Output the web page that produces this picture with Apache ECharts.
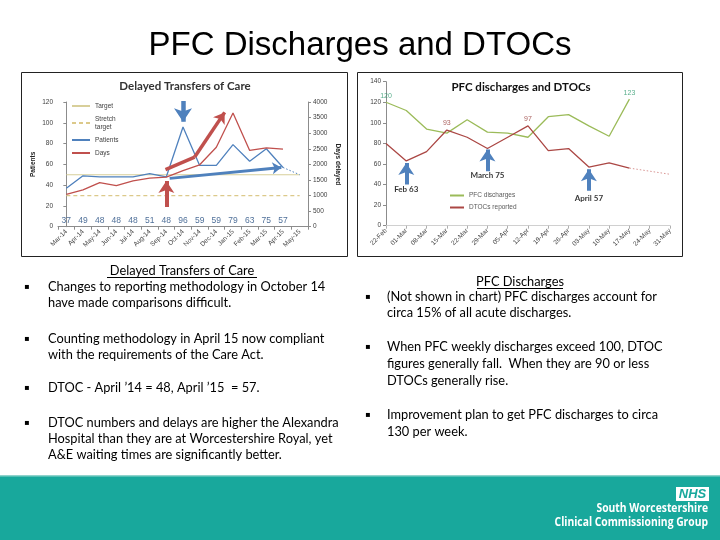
<!DOCTYPE html>
<html><head><meta charset="utf-8">
<script src="https://cdn.jsdelivr.net/npm/echarts@6/dist/echarts.min.js"></script>
<style>html,body{margin:0;padding:0;background:#fff}#c{width:720px;height:540px}</style>
</head><body><div id="c"></div>
<script>
// ---- Left chart: Delayed Transfers of Care ----
const months = ['Mar-14','Apr-14','May-14','Jun-14','Jul-14','Aug-14','Sep-14','Oct-14','Nov-14','Dec-14','Jan-15','Feb-15','Mar-15','Apr-15','May-15'];
const patients = [37,49,48,48,48,51,48,96,59,59,79,63,75,57,null];
const patientsTrend = [null,null,null,null,null,null,null,null,null,null,null,null,null,57,50];
const daysDelayed = [1040,1180,1415,1320,1470,1555,1590,1800,1985,2550,3645,2445,2530,2490,null];
const targetLine = [50,50,50,50,50,50,50,50,50,50,50,50,50,50,50];
const stretchLine = [30,30,30,30,30,30,30,30,30,30,30,30,30,30,30];
const patientTicks = [0,20,40,60,80,100,120];
const dayTicks = [0,500,1000,1500,2000,2500,3000,3500,4000];
// annotation arrows (x in month index, y in patients)
const arrowRedUp = [[6,19],[6,44]];
const arrowBlueDown = [[7,121],[7,101]];
const arrowRedTrendA = [[5.95,55],[7.7,67]];
const arrowRedTrendB = [[7.7,67],[9.5,110]];
const arrowBlueTrend = [[6.2,46.5],[12.9,57]];

// ---- Right chart: PFC discharges and DTOCs ----
const weeks = ['22-Feb','01-Mar','08-Mar','15-Mar','22-Mar','29-Mar','05-Apr','12-Apr','19-Apr','26-Apr','03-May','10-May','17-May','24-May','31-May'];
const pfcDischarges = [120,112,94,90,103,91,90,86,106,108,97,87,123,null,null];
const dtocsReported = [80,63,72,93,86,75,86,97,73,75,57,61,56,null,null];
const dtocsTrend = [null,null,null,null,null,null,null,null,null,null,null,null,56,53,50];
const pfcLabelAt = [0,12];
const dtocLabelAt = [3,7];
const weekTicks = [0,20,40,60,80,100,120,140];
const weekArrows = [ [[1,40],[1,61]], [[5,53],[5,74]], [[10,34],[10,55]] ];
const weekNotes = [[1,35,'Feb 63'],[5,49,'March 75'],[10,27,'April 57']];

const BLUE='#4f81bd', RED='#c0504d', TAN='#d8cf9a', GREEN='#9bbb59', MAROON='#ab4744';
const axLbl = {fontSize:6.5,color:'#404040',fontFamily:'Liberation Sans'};

const chart = echarts.init(document.getElementById('c'),null,{renderer:'canvas'});

function txt(x,y,s,o,extra){return Object.assign({type:'text',x:x,y:y,style:Object.assign({text:s,fill:'#000',font:'13px Lato',textVerticalAlign:'middle'},o||{})},extra||{});}
const body = 'normal 12.8px Lato';
const leftLines = [
 [287,'Changes to reporting methodology in October 14',true],
 [303,'have made comparisons difficult.',false],
 [339,'Counting methodology in April 15 now compliant',true],
 [355,'with the requirements of the Care Act.',false],
 [388,'DTOC - April \u201914 = 48, April \u201915  = 57.',true],
 [423,'DTOC numbers and delays are higher the Alexandra',true],
 [439,'Hospital than they are at Worcestershire Royal, yet',false],
 [455,'A&E waiting times are significantly better.',false]
];
const rightLines = [
 [297,'(Not shown in chart) PFC discharges account for',true],
 [313,'circa 15% of all acute discharges.',false],
 [347,'When PFC weekly discharges exceed 100, DTOC',true],
 [364,'figures generally fall.  When they are 90 or less',false],
 [381,'DTOCs generally rise.',false],
 [415,'Improvement plan to get PFC discharges to circa',true],
 [432,'130 per week.',false]
];
const graphics = [];
graphics.push(txt(360,46,'PFC Discharges and DTOCs',{font:'33px "Liberation Sans"',textAlign:'center'}));
graphics.push({type:'rect',shape:{x:21.5,y:72.5,width:326,height:184},style:{fill:'none',stroke:'#222',lineWidth:1}});
graphics.push({type:'rect',shape:{x:357.5,y:72.5,width:325,height:184},style:{fill:'none',stroke:'#222',lineWidth:1}});
graphics.push(txt(185,86,'Delayed Transfers of Care',{font:'bold 11.5px Lato',textAlign:'center',fill:'#333'}));
graphics.push(txt(521,87,'PFC discharges and DTOCs',{font:'bold 11.5px Lato',textAlign:'center',fill:'#111'}));
graphics.push(txt(182,271,'Delayed Transfers of Care',{font:body,textAlign:'center'}));
graphics.push({type:'line',shape:{x1:107,y1:277.5,x2:257,y2:277.5},style:{stroke:'#000',lineWidth:1}});
graphics.push(txt(520,282,'PFC Discharges',{font:body,textAlign:'center'}));
graphics.push({type:'line',shape:{x1:477,y1:288.5,x2:563,y2:288.5},style:{stroke:'#000',lineWidth:1}});
leftLines.forEach(l=>{graphics.push(txt(48,l[0],l[1],{font:body})); if(l[2]) graphics.push(txt(24,l[0],'\u25AA',{font:'8px "DejaVu Sans"'}));});
rightLines.forEach(l=>{graphics.push(txt(387,l[0],l[1],{font:body})); if(l[2]) graphics.push(txt(365,l[0],'\u25AA',{font:'8px "DejaVu Sans"'}));});
// footer
graphics.push({type:'rect',shape:{x:0,y:475,width:720,height:65},style:{fill:'#18a89c'}});
graphics.push({type:'rect',shape:{x:0,y:475,width:720,height:1.5},style:{fill:'#8fd3cc'}});
graphics.push({type:'rect',shape:{x:676,y:487,width:33,height:14},style:{fill:'#fff'}});
graphics.push(txt(692.5,494.5,'NHS',{font:'italic bold 13px "Liberation Sans"',textAlign:'center',fill:'#18a89c'}));
graphics.push(txt(0,0,'South Worcestershire',{font:'bold 12px "Open Sans"',textAlign:'right',fill:'#fff'},{x:708,y:509,scaleX:0.86}));
graphics.push(txt(0,0,'Clinical Commissioning Group',{font:'bold 12px "Open Sans"',textAlign:'right',fill:'#fff'},{x:708,y:523,scaleX:0.86}));

function arrowSeries(xi,yi,coordsList,color,w,head){
 return {type:'lines',coordinateSystem:'cartesian2d',xAxisIndex:xi,yAxisIndex:yi,polyline:false,z:5,
  lineStyle:{color:color,width:w,opacity:1,curveness:0},
  symbol:['none',head?'arrow':'none'],symbolSize:w*3,
  data:coordsList.map(c=>({coords:c}))};
}

const option = {
 animation:false,
 backgroundColor:'#fff',
 graphic:graphics,
 grid:[
  {left:58,top:102,width:250,height:124.7},
  {left:386,top:81.7,width:284,height:144}
 ],
 legend:[
  {orient:'vertical',left:66,top:97,itemWidth:18,itemHeight:6,itemGap:5,itemStyle:{opacity:0},
   textStyle:{fontSize:6.5,color:'#404040',lineHeight:8,fontFamily:'Liberation Sans'},
   data:['Target','Stretch\ntarget','Patients','Days']},
  {orient:'vertical',left:444,top:187,itemWidth:14,itemHeight:6,itemGap:5,itemStyle:{opacity:0},
   textStyle:{fontSize:6.5,color:'#595959',lineHeight:7,fontFamily:'Liberation Sans'},
   data:['PFC discharges','DTOCs reported']}
 ],
 xAxis:[
  {type:'category',gridIndex:0,data:months,boundaryGap:true,
   axisLine:{lineStyle:{color:'#8c8c8c'}},axisTick:{show:true,lineStyle:{color:'#8c8c8c'},length:3},
   axisLabel:Object.assign({rotate:45,fontSize:6,margin:4,interval:0},axLbl)},
  {type:'value',gridIndex:0,min:-0.5,max:14.5,show:false},
  {type:'category',gridIndex:1,data:weeks,boundaryGap:false,
   axisLine:{lineStyle:{color:'#d0d0d0'}},axisTick:{show:true,lineStyle:{color:'#b0b0b0'},length:3},
   axisLabel:Object.assign({rotate:45,fontSize:6,margin:4,interval:0},axLbl)},
  {type:'value',gridIndex:1,min:0,max:14,show:false}
 ],
 yAxis:[
  {type:'value',gridIndex:0,min:patientTicks[0],max:patientTicks[patientTicks.length-1],interval:20,
   name:'Patients',nameLocation:'middle',nameGap:21,nameTextStyle:{fontSize:6.5,fontWeight:'bold',color:'#222'},
   axisLine:{show:true,lineStyle:{color:'#8c8c8c'}},axisTick:{show:true,length:3,lineStyle:{color:'#8c8c8c'}},
   splitLine:{show:false},axisLabel:Object.assign({margin:5},axLbl)},
  {type:'value',gridIndex:0,position:'right',min:dayTicks[0],max:dayTicks[dayTicks.length-1],interval:500,
   name:'Days delayed',nameLocation:'middle',nameGap:26,nameRotate:-90,nameTextStyle:{fontSize:6.5,fontWeight:'bold',color:'#222'},
   axisLine:{show:true,lineStyle:{color:'#8c8c8c'}},axisTick:{show:true,length:3,lineStyle:{color:'#8c8c8c'}},
   splitLine:{show:false},axisLabel:Object.assign({margin:5,formatter:v=>String(v)},axLbl)},
  {type:'value',gridIndex:1,min:weekTicks[0],max:weekTicks[weekTicks.length-1],interval:20,
   axisLine:{show:true,lineStyle:{color:'#8c8c8c'}},axisTick:{show:true,length:3,lineStyle:{color:'#8c8c8c'}},
   splitLine:{show:false},axisLabel:Object.assign({margin:5},axLbl)}
 ],
 series:[
  {name:'Target',type:'line',xAxisIndex:0,yAxisIndex:0,data:targetLine,symbol:'none',lineStyle:{color:TAN,width:1.2},itemStyle:{color:TAN}},
  {name:'Stretch\ntarget',type:'line',xAxisIndex:0,yAxisIndex:0,data:stretchLine,symbol:'none',lineStyle:{color:'#dcc98a',width:1.2,type:[4,3]},itemStyle:{color:'#dcc98a'}},
  {name:'Patients',type:'line',xAxisIndex:0,yAxisIndex:0,data:patients,symbol:'none',lineStyle:{color:BLUE,width:1.3},itemStyle:{color:BLUE}},
  {name:'Patients trend',type:'line',xAxisIndex:0,yAxisIndex:0,data:patientsTrend,symbol:'none',lineStyle:{color:BLUE,width:1,type:[1.5,2]}},
  {name:'Days',type:'line',xAxisIndex:0,yAxisIndex:1,data:daysDelayed,symbol:'none',lineStyle:{color:RED,width:1.3},itemStyle:{color:RED}},
  {name:'labels',type:'scatter',xAxisIndex:0,yAxisIndex:0,symbolSize:1,itemStyle:{color:'rgba(0,0,0,0)'},
   data:patients.map((v,i)=>v==null?null:[i,0,v]),
   label:{show:true,position:'top',distance:1,formatter:p=>p.value[2],fontSize:8.5,color:'#1f497d',fontFamily:'Liberation Sans'}},
  arrowSeries(1,0,[arrowRedTrendA],'#c0504d',3.5,false),
  arrowSeries(1,0,[arrowRedTrendB],'#c0504d',3.5,true),
  arrowSeries(1,0,[arrowBlueTrend],'#4f81bd',3,true),
  arrowSeries(1,0,[arrowRedUp],'#c0504d',4,true),
  arrowSeries(1,0,[arrowBlueDown],'#4f81bd',4.5,true),

  {name:'PFC discharges',type:'line',xAxisIndex:2,yAxisIndex:2,data:pfcDischarges,symbol:'none',lineStyle:{color:GREEN,width:1.3},itemStyle:{color:GREEN}},
  {name:'DTOCs reported',type:'line',xAxisIndex:2,yAxisIndex:2,data:dtocsReported,symbol:'none',lineStyle:{color:MAROON,width:1.3},itemStyle:{color:MAROON}},
  {name:'DTOC labels',type:'scatter',xAxisIndex:2,yAxisIndex:2,symbolSize:1,itemStyle:{color:'rgba(0,0,0,0)'},
   data:dtocLabelAt.map(i=>[i,dtocsReported[i]]),
   label:{show:true,position:'top',distance:3,formatter:p=>p.value[1],fontSize:7,color:'#953735',fontFamily:'Liberation Sans'}},
  {name:'PFC labels',type:'scatter',xAxisIndex:2,yAxisIndex:2,symbolSize:1,itemStyle:{color:'rgba(0,0,0,0)'},
   data:pfcLabelAt.map(i=>[i,pfcDischarges[i]]),
   label:{show:true,position:'top',distance:2,formatter:p=>p.value[1],fontSize:7,color:'#2e9a6e',fontFamily:'Liberation Sans'}},
  {name:'DTOC trend',type:'line',xAxisIndex:2,yAxisIndex:2,data:dtocsTrend,symbol:'none',lineStyle:{color:'#d99694',width:1,type:[1.5,2]}},
  arrowSeries(3,2,weekArrows,'#4f81bd',4,true),
  {name:'notes',type:'scatter',xAxisIndex:3,yAxisIndex:2,symbolSize:1,itemStyle:{color:'rgba(0,0,0,0)'},
   data:weekNotes,
   label:{show:true,position:'inside',formatter:p=>p.value[2],fontSize:8,fontWeight:'bold',color:'#000',fontFamily:'Lato'}}
 ]
};
chart.setOption(option);
</script></body></html>
